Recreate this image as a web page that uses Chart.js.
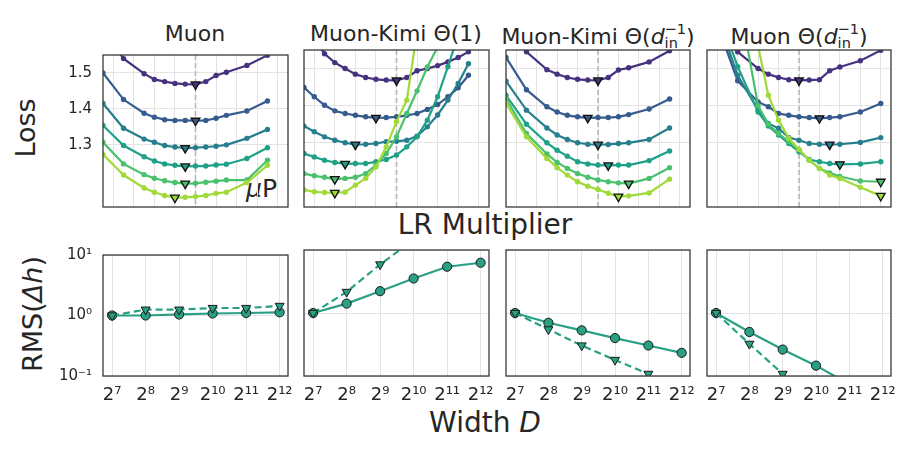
<!DOCTYPE html>
<html>
<head>
<meta charset="utf-8">
<script src="https://cdn.jsdelivr.net/npm/chart.js@4.4.1/dist/chart.umd.min.js"></script>
<style>
  body { margin: 0; background: #fff; }
  #fig { position: relative; width: 915px; height: 459px; overflow: hidden; font-family: "DejaVu Sans", sans-serif; color: #262626; }
  #fig canvas { position: absolute; }
  .lbl { position: absolute; white-space: nowrap; text-align: center; }
  .title { font-size: 22px; line-height: 22px; width: 300px; top: 23px; }
  .big { font-size: 27px; line-height: 27px; }
  .rot { transform: translate(-50%, -50%) rotate(-90deg); }
  .ss { display: inline-block; font-size: 0.66em; line-height: 0.95; vertical-align: -0.28em; text-align: left; }
  .ss span { display: block; }
</style>
</head>
<body>
<div id="fig">
  <div class="lbl title" style="left:45px">Muon</div>
  <div class="lbl title" style="left:246px">Muon-Kimi Θ(1)</div>
  <div class="lbl title" style="left:448px">Muon-Kimi Θ(<i>d</i><span class="ss"><span>−1</span><span>in</span></span>)</div>
  <div class="lbl title" style="left:649px">Muon Θ(<i>d</i><span class="ss"><span>−1</span><span>in</span></span>)</div>
  <div class="lbl big rot" style="left:25px;top:128px">Loss</div>
  <div class="lbl big rot" style="left:32px;top:314px">RMS(<i>Δh</i>)</div>
  <div class="lbl big" style="left:335px;top:211px;width:300px;font-size:28px;line-height:28px">LR Multiplier</div>
  <div class="lbl big" style="left:335px;top:409px;width:300px;font-size:28px;line-height:28px">Width <i>D</i></div>
  <div class="lbl" style="left:246px;top:176px;font-size:25px;line-height:25px"><i>μ</i>P</div>
</div>
<script>
// widths 2^7 .. 2^12 (one curve each in the top row, x axis in the bottom row)
const WIDTHS = [128, 256, 512, 1024, 2048, 4096]
const WIDTH_TICK_LABELS = ["2⁷", "2⁸", "2⁹", "2¹⁰", "2¹¹", "2¹²"]

// log2 of the LR multiplier
const LR_GRID = [-4, -3, -2, -1, 0, 1, 2, 3, 4]
const LR_SPARSE = [-4.5, -3.5, -2.5, -2, -1.5, -1, -0.5, 0, 0.5, 1, 1.5, 2.5, 3.5]
const LR_DENSE = [-4.5, -4, -3.5, -3, -2.5, -2, -1.5, -1, -0.5, 0, 0.5, 1, 1.5, 2, 2.5, 3, 3.5]
const LR_SHIFTED = [-4, -3, -2, -1.5, -1, -0.5, 0, 0.5, 1, 1.5, 2, 3, 4]

const LOSS_TICKS = [1.3, 1.4, 1.5]
const RMS_TICKS = [0.1, 1, 10]
const RMS_TICK_LABELS = ["10⁻¹", "10⁰", "10¹"]

// loss, one row per width
const lossMuon = [
  [1.62, 1.540, 1.498, 1.482, 1.476, 1.471, 1.469, 1.468, 1.476, 1.493, 1.502, 1.521, 1.549],
  [1.500, 1.426, 1.388, 1.377, 1.370, 1.368, 1.368, 1.367, 1.368, 1.374, 1.382, 1.394, 1.422],
  [1.415, 1.346, 1.316, 1.307, 1.298, 1.294, 1.291, 1.292, 1.294, 1.296, 1.300, 1.318, 1.343],
  [1.354, 1.298, 1.267, 1.255, 1.247, 1.243, 1.240, 1.241, 1.241, 1.244, 1.246, 1.262, 1.292],
  [1.307, 1.247, 1.217, 1.207, 1.200, 1.195, 1.192, 1.193, 1.196, 1.199, 1.202, 1.202, 1.257],
  [1.273, 1.216, 1.180, 1.168, 1.159, 1.153, 1.154, 1.156, 1.159, 1.165, 1.168, 1.195, 1.243],
]
const lossKimiConst = [
  [1.70, 1.58, 1.540, 1.516, 1.500, 1.485, 1.476, 1.471, 1.469, 1.468, 1.476, 1.494, 1.500, 1.508, 1.518, 1.530, 1.545],
  [1.449, 1.424, 1.401, 1.386, 1.379, 1.374, 1.370, 1.367, 1.368, 1.370, 1.374, 1.379, 1.390, 1.403, 1.424, 1.448, 1.482],
  [1.345, 1.330, 1.316, 1.307, 1.300, 1.295, 1.296, 1.298, 1.303, 1.304, 1.307, 1.318, 1.343, 1.375, 1.415, 1.460, 1.513],
  [1.271, 1.262, 1.253, 1.247, 1.243, 1.244, 1.244, 1.249, 1.255, 1.267, 1.289, 1.316, 1.361, 1.424, 1.505, 1.590],
  [1.217, 1.211, 1.207, 1.202, 1.204, 1.207, 1.217, 1.240, 1.271, 1.316, 1.379, 1.440, 1.504, 1.558],
  [1.173, 1.168, 1.166, 1.165, 1.167, 1.186, 1.204, 1.235, 1.289, 1.357, 1.415, 1.600],
]
const lossKimiDin = [
  [1.62, 1.545, 1.497, 1.485, 1.476, 1.471, 1.469, 1.468, 1.476, 1.496, 1.502, 1.518, 1.548],
  [1.530, 1.443, 1.397, 1.383, 1.374, 1.370, 1.367, 1.368, 1.368, 1.370, 1.376, 1.391, 1.418],
  [1.466, 1.388, 1.340, 1.321, 1.309, 1.300, 1.296, 1.295, 1.2955, 1.298, 1.300, 1.309, 1.340],
  [1.428, 1.350, 1.300, 1.280, 1.264, 1.249, 1.243, 1.240, 1.239, 1.240, 1.240, 1.252, 1.278],
  [1.419, 1.325, 1.270, 1.247, 1.231, 1.217, 1.207, 1.200, 1.195, 1.192, 1.190, 1.204, 1.233],
  [1.406, 1.316, 1.258, 1.233, 1.213, 1.195, 1.183, 1.174, 1.164, 1.155, 1.157, 1.165, 1.202],
]
const lossMuonDin = [
  [1.60, 1.545, 1.500, 1.485, 1.476, 1.470, 1.468, 1.469, 1.470, 1.494, 1.504, 1.521, 1.549],
  [1.62, 1.467, 1.410, 1.397, 1.379, 1.374, 1.370, 1.368, 1.366, 1.368, 1.370, 1.383, 1.406],
  [1.64, 1.482, 1.388, 1.352, 1.339, 1.314, 1.307, 1.298, 1.296, 1.295, 1.296, 1.301, 1.314],
  [1.66, 1.505, 1.383, 1.345, 1.321, 1.298, 1.276, 1.255, 1.249, 1.244, 1.242, 1.243, 1.249],
  [null, 1.70, 1.400, 1.350, 1.325, 1.303, 1.281, 1.253, 1.231, 1.219, 1.209, 1.197, 1.195],
  [null, null, 1.560, 1.428, 1.361, 1.312, 1.282, 1.253, 1.231, 1.213, 1.204, 1.180, 1.157],
]

// RMS(delta h) vs width: solid circles / dashed triangles
const rmsMuonCirc = [1.0, 1.0, 1.04, 1.08, 1.10, 1.13]
const rmsMuonTri = [1.0, 1.25, 1.25, 1.33, 1.33, 1.44]
const rmsKimiConstCirc = [1.0, 1.41, 2.22, 3.53, 5.43, 6.28]
const rmsKimiConstTri = [1.0, 2.16, 5.9, 14.5]
const rmsKimiDinCirc = [1.0, 0.70, 0.53, 0.40, 0.305, 0.233]
const rmsKimiDinTri = [1.0, 0.55, 0.305, 0.18, 0.108]
const rmsMuonDinCirc = [1.0, 0.50, 0.263, 0.146, 0.074]
const rmsMuonDinTri = [1.0, 0.324, 0.108]

const WIDTH_COLORS = ["#46327e", "#365c8d", "#277f8e", "#1fa187", "#4ac16d", "#a0da39"]
const RMS_COLOR = "#29a083"

const COLS = [[103, 288], [304, 489], [506, 690], [707, 891]]
const ROW_LOSS = [50, 207]
const ROW_RMS = [250, 376]
const PAD = { l: 55, r: 28, t: 15, b: 45 }

Chart.defaults.font.family = "'DejaVu Sans', sans-serif"
Chart.defaults.color = "#262626"
Chart.defaults.animation = false
Chart.defaults.events = []
Chart.defaults.plugins.legend.display = false
Chart.defaults.plugins.tooltip.enabled = false

// full box around the plot area
const frame = {
  id: "frame",
  afterDraw(chart) {
    const { ctx, chartArea: a } = chart
    ctx.save()
    ctx.strokeStyle = "#3a3a3a"
    ctx.lineWidth = 1.3
    ctx.strokeRect(a.left, a.top, a.right - a.left, a.bottom - a.top)
    ctx.restore()
  },
}

// dashed line at LR multiplier 1
const refLine = {
  id: "refLine",
  beforeDatasetsDraw(chart) {
    const { ctx, chartArea: a, scales } = chart
    const px = scales.x.getPixelForValue(0)
    ctx.save()
    ctx.strokeStyle = "#b4b4b4"
    ctx.lineWidth = 1.5
    ctx.setLineDash([5, 3])
    ctx.beginPath()
    ctx.moveTo(px, a.top)
    ctx.lineTo(px, a.bottom)
    ctx.stroke()
    ctx.restore()
  },
}

function argmin(vals) {
  let best = -1
  vals.forEach((v, i) => {
    if (v != null && (best < 0 || v < vals[best])) best = i
  })
  return best
}

function place(col, row) {
  const cv = document.createElement("canvas")
  const w = col[1] - col[0] + PAD.l + PAD.r
  const h = row[1] - row[0] + PAD.t + PAD.b
  cv.width = w
  cv.height = h
  cv.style.width = w + "px"
  cv.style.height = h + "px"
  cv.style.left = col[0] - PAD.l + "px"
  cv.style.top = row[0] - PAD.t + "px"
  document.getElementById("fig").appendChild(cv)
  return cv
}

const gridOpts = { color: "#e3e3e3", lineWidth: 1, drawTicks: false }

function lossChart(col, lr, series, showY) {
  const datasets = series.map((vals, k) => ({
    data: vals.map((v, j) => ({ x: lr[j], y: v })),
    borderColor: WIDTH_COLORS[k],
    backgroundColor: WIDTH_COLORS[k],
    borderWidth: 2.2,
    pointRadius: 2.7,
    pointBorderWidth: 0,
    pointBackgroundColor: WIDTH_COLORS[k],
    order: -k,
  }))
  const mins = series.map(argmin)
  datasets.push({
    data: mins.map((j, k) => ({ x: lr[j], y: series[k][j] })),
    showLine: false,
    pointStyle: "triangle",
    pointRotation: 180,
    pointRadius: 5,
    pointBackgroundColor: WIDTH_COLORS,
    pointBorderColor: "#111",
    pointBorderWidth: 1.3,
    order: -20,
  })

  new Chart(place(col, ROW_LOSS), {
    type: "line",
    data: { datasets },
    options: {
      responsive: false,
      layout: { padding: { left: 0, right: PAD.r, top: PAD.t, bottom: 0 } },
      scales: {
        x: {
          type: "linear", min: -4.5, max: 4.5,
          afterBuildTicks: (s) => { s.ticks = LR_GRID.map((v) => ({ value: v })) },
          afterFit: (s) => { s.height = PAD.b },
          ticks: { display: false },
          grid: gridOpts,
          border: { display: false },
        },
        y: {
          type: "linear", min: 1.127, max: 1.55,
          afterBuildTicks: (s) => { s.ticks = LOSS_TICKS.map((v) => ({ value: v })) },
          afterFit: (s) => { s.width = PAD.l },
          ticks: { display: showY, padding: 11, font: { size: 15 }, callback: (v) => v.toFixed(1) },
          grid: gridOpts,
          border: { display: false },
        },
      },
    },
    plugins: [refLine, frame],
  })
}

function rmsChart(col, circ, tri, showY) {
  const mk = (vals, style, dash, order) => ({
    data: vals.map((v, j) => ({ x: WIDTHS[j], y: v })),
    borderColor: RMS_COLOR,
    borderWidth: 2.2,
    borderDash: dash,
    pointStyle: style,
    pointRotation: style === "triangle" ? 180 : 0,
    pointRadius: style === "triangle" ? 5.2 : 4.6,
    pointBackgroundColor: RMS_COLOR,
    pointBorderColor: "#1a1a1a",
    pointBorderWidth: 1,
    order,
  })
  new Chart(place(col, ROW_RMS), {
    type: "line",
    data: { datasets: [mk(circ, "circle", [], 0), mk(tri, "triangle", [7, 4], -1)] },
    options: {
      responsive: false,
      layout: { padding: { left: 0, right: PAD.r, top: PAD.t, bottom: 0 } },
      scales: {
        x: {
          type: "logarithmic", min: 106, max: 4870,
          afterBuildTicks: (s) => { s.ticks = WIDTHS.map((v) => ({ value: v })) },
          afterFit: (s) => { s.height = PAD.b },
          ticks: {
            padding: 9, font: { size: 18 }, maxRotation: 0, autoSkip: false,
            callback: (v, i) => WIDTH_TICK_LABELS[i],
          },
          grid: gridOpts,
          border: { display: false },
        },
        y: {
          type: "logarithmic", min: 0.1, max: 10,
          afterBuildTicks: (s) => { s.ticks = RMS_TICKS.map((v) => ({ value: v })) },
          afterFit: (s) => { s.width = PAD.l },
          ticks: { display: showY, padding: 11, font: { size: 15 }, callback: (v, i) => RMS_TICK_LABELS[i] },
          grid: gridOpts,
          border: { display: false },
        },
      },
    },
    plugins: [frame],
  })
}

lossChart(COLS[0], LR_SPARSE, lossMuon, true)
lossChart(COLS[1], LR_DENSE, lossKimiConst, false)
lossChart(COLS[2], LR_SPARSE, lossKimiDin, false)
lossChart(COLS[3], LR_SHIFTED, lossMuonDin, false)

rmsChart(COLS[0], rmsMuonCirc, rmsMuonTri, true)
rmsChart(COLS[1], rmsKimiConstCirc, rmsKimiConstTri, false)
rmsChart(COLS[2], rmsKimiDinCirc, rmsKimiDinTri, false)
rmsChart(COLS[3], rmsMuonDinCirc, rmsMuonDinTri, false)
</script>
</body>
</html>
